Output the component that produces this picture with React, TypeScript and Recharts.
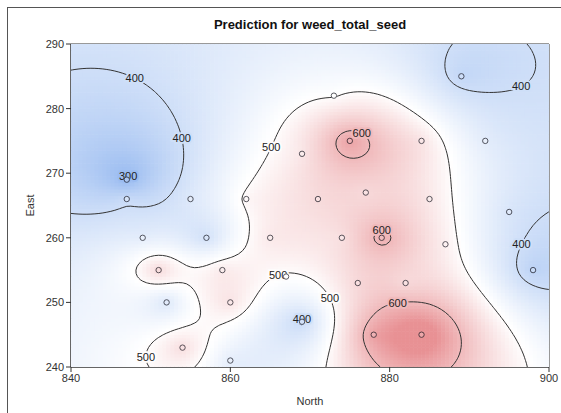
import React from 'react';
import { ComposedChart, Scatter, XAxis, YAxis, ReferenceArea } from 'recharts';

// sample locations and observed weed_total_seed
const north = [847, 847, 855, 862, 869, 873, 889, 875, 884, 892, 877, 871, 885, 849, 857, 865, 851, 859, 852, 860, 854, 860, 869, 867, 874, 879, 887, 895, 898, 876, 882, 878, 884];
const east = [269, 266, 266, 266, 273, 282, 285, 275, 275, 275, 267, 266, 266, 260, 260, 260, 255, 255, 250, 250, 243, 241, 247, 254, 260, 260, 259, 264, 255, 253, 253, 245, 245];
const seed = [285, 395, 430, 510, 530, 495, 375, 640, 540, 440, 550, 550, 530, 440, 400, 530, 560, 530, 420, 540, 550, 440, 385, 495, 540, 620, 520, 420, 362, 555, 550, 640, 710];

const xTicks = [840, 860, 880, 900];
const yTicks = [240, 250, 260, 270, 280, 290];
const contourLevels = [300, 400, 500, 600];

// where the contour labels sit (level, approx north, approx east)
const labelLevel = [400, 400, 300, 500, 600, 400, 600, 400, 500, 500, 400, 600, 500];
const labelNorth = [848.4, 853.3, 847, 864.3, 876.4, 895.5, 879.2, 896.3, 866.2, 876.2, 869, 881.3, 844];
const labelEast = [286.4, 275.4, 269.3, 274.5, 275.8, 285.7, 262.1, 259.4, 254.2, 253.2, 247.2, 248.4, 241.4];

const CHART_W = 561;
const CHART_H = 413;
const MARGIN = { top: 44, right: 12, bottom: 0, left: 0 };
const Y_AXIS_W = 71;
const X_AXIS_H = 46;
const PLOT_W = CHART_W - MARGIN.right - MARGIN.left - Y_AXIS_W;
const PLOT_H = CHART_H - MARGIN.top - MARGIN.bottom - X_AXIS_H;

// simple kriging, exponential covariance
const RANGE = 16;
const NUGGET = 0.02;
const MEAN = 440;

function solve(A: number[][], b: number[]) {
  const n = b.length;
  const M = A.map((row, i) => [...row, b[i]]);
  for (let c = 0; c < n; c++) {
    let p = c;
    for (let r = c + 1; r < n; r++) if (Math.abs(M[r][c]) > Math.abs(M[p][c])) p = r;
    const tmp = M[c]; M[c] = M[p]; M[p] = tmp;
    for (let r = c + 1; r < n; r++) {
      const f = M[r][c] / M[c][c];
      for (let k = c; k <= n; k++) M[r][k] -= f * M[c][k];
    }
  }
  const x = new Array(n).fill(0);
  for (let r = n - 1; r >= 0; r--) {
    let s = M[r][n];
    for (let k = r + 1; k < n; k++) s -= M[r][k] * x[k];
    x[r] = s / M[r][r];
  }
  return x;
}

const cov = (d: number) => Math.exp(-d / RANGE);
const K = north.map((_, i) =>
  north.map((_, j) => cov(Math.hypot(north[i] - north[j], east[i] - east[j])) + (i === j ? NUGGET : 0))
);
const weights = solve(K, seed.map((v) => v - MEAN));
const predict = (x: number, y: number) => {
  let s = MEAN;
  for (let i = 0; i < north.length; i++) s += weights[i] * cov(Math.hypot(x - north[i], y - east[i]));
  return s;
};

const MID = 495;
const mixArr = (a: number[], b: number[], t: number) => a.map((c, i) => Math.round(c + (b[i] - c) * t));
const colourArr = (v: number) => {
  if (v < MID) return mixArr([255, 255, 255], [150, 185, 240], Math.min(1, (MID - v) / 205));
  return mixArr([255, 255, 255], [232, 145, 148], Math.min(1, (v - MID) / 165));
};
const rgb = (c: number[]) => `rgb(${c.join(',')})`;
const colour = (v: number) => rgb(colourArr(v));

// heat cells
const NX = 120;
const NY = 100;
const DX = 60 / NX;
const DY = 50 / NY;
const CW = PLOT_W / NX + 0.6;
const CH = PLOT_H / NY + 0.6;
const heat: { north: number; east: number; fill: string }[] = [];
for (let i = 0; i < NX; i++) {
  for (let j = 0; j < NY; j++) {
    const x = 840 + (i + 0.5) * DX;
    const y = 240 + (j + 0.5) * DY;
    heat.push({ north: x, east: y, fill: colour(predict(x, y)) });
  }
}

// contour lines by marching squares
const grid: number[][] = [];
for (let j = 0; j <= NY; j++) {
  const row: number[] = [];
  for (let i = 0; i <= NX; i++) row.push(predict(840 + i * DX, 240 + j * DY));
  grid.push(row);
}

type Pt = { north: number; east: number };

function contourLines(level: number) {
  const pts = new Map<string, Pt>();
  const adj = new Map<string, string[]>();
  const edge = (key: string, x0: number, y0: number, v0: number, x1: number, y1: number, v1: number) => {
    if ((v0 < level) === (v1 < level)) return null;
    if (!pts.has(key)) {
      const t = (level - v0) / (v1 - v0);
      pts.set(key, { north: x0 + t * (x1 - x0), east: y0 + t * (y1 - y0) });
    }
    return key;
  };
  const link = (a: string, b: string) => {
    if (!adj.has(a)) adj.set(a, []);
    if (!adj.has(b)) adj.set(b, []);
    adj.get(a)!.push(b);
    adj.get(b)!.push(a);
  };
  for (let j = 0; j < NY; j++) {
    for (let i = 0; i < NX; i++) {
      const v0 = grid[j][i], v1 = grid[j][i + 1], v2 = grid[j + 1][i + 1], v3 = grid[j + 1][i];
      const x0 = 840 + i * DX, x1 = x0 + DX, y0 = 240 + j * DY, y1 = y0 + DY;
      const hit = [
        edge(`h${i},${j}`, x0, y0, v0, x1, y0, v1),
        edge(`v${i + 1},${j}`, x1, y0, v1, x1, y1, v2),
        edge(`h${i},${j + 1}`, x0, y1, v3, x1, y1, v2),
        edge(`v${i},${j}`, x0, y0, v0, x0, y1, v3),
      ];
      const found = hit.filter((h) => h !== null) as string[];
      if (found.length === 2) link(found[0], found[1]);
      else if (found.length === 4) {
        const centre = (v0 + v1 + v2 + v3) / 4;
        if ((centre < level) === (v0 < level)) {
          link(hit[0]!, hit[1]!);
          link(hit[2]!, hit[3]!);
        } else {
          link(hit[0]!, hit[3]!);
          link(hit[1]!, hit[2]!);
        }
      }
    }
  }
  const used = new Set<string>();
  const lines: Pt[][] = [];
  const walk = (start: string) => {
    const line = [pts.get(start)!];
    used.add(start);
    let prev = '';
    let cur = start;
    for (;;) {
      const nb = adj.get(cur) || [];
      const next = nb.find((k) => k !== prev && !used.has(k));
      if (!next) {
        if (nb.includes(start) && line.length > 2) line.push(pts.get(start)!);
        break;
      }
      used.add(next);
      line.push(pts.get(next)!);
      prev = cur;
      cur = next;
    }
    lines.push(line);
  };
  for (const [k, nb] of adj) if (nb.length === 1 && !used.has(k)) walk(k);
  for (const k of adj.keys()) if (!used.has(k)) walk(k);
  return lines;
}

const contours = contourLevels.map((level) => ({ level, lines: contourLines(level) }));

const contourLabels = labelLevel.map((level, i) => {
  const set = contours.find((c) => c.level === level);
  let best: Pt = { north: labelNorth[i], east: labelEast[i] };
  let bestD = Infinity;
  set?.lines.forEach((line) =>
    line.forEach((p) => {
      const d = Math.hypot((p.north - labelNorth[i]) * 7.97, (p.east - labelEast[i]) * 6.46);
      if (d < bestD) {
        bestD = d;
        best = p;
      }
    })
  );
  return { north: best.north, east: best.east, text: String(level), bg: colour(level) };
});

const samples = north.map((n, i) => ({ north: n, east: east[i], v: seed[i] }));

const HeatCell = (p: any) => (
  <rect x={p.cx - CW / 2} y={p.cy - CH / 2} width={CW} height={CH} fill={p.payload.fill} />
);

const ContourLabel = (p: any) => (
  <text
    x={p.cx}
    y={p.cy}
    dy="0.35em"
    textAnchor="middle"
    fontSize={11}
    fill="#222"
    stroke={p.payload.bg}
    strokeWidth={4}
    paintOrder="stroke"
  >
    {p.payload.text}
  </text>
);

const SampleDot = (p: any) => {
  const c = colourArr(p.payload.v);
  return (
    <circle
      cx={p.cx}
      cy={p.cy}
      r={2.7}
      fill={rgb(mixArr(c, [255, 255, 255], 0.2))}
      stroke={rgb(mixArr(c, [20, 20, 30], 0.7))}
      strokeWidth={1}
    />
  );
};

const NoDot = () => <g />;

const tickStyle = { fontSize: 11, fill: '#333' };

export default function App() {
  return (
    <div style={{ position: 'absolute', left: 0, top: 0, width: CHART_W, height: CHART_H, overflow: 'hidden', background: '#fff', fontFamily: '"Liberation Sans", Arial, sans-serif' }}>
      <div style={{ position: 'absolute', left: 7, top: 7, width: 620, height: 480, borderLeft: '1px solid #555', borderTop: '1px solid #555' }} />
      <div style={{ position: 'absolute', left: 71, top: 17, width: 478, textAlign: 'center', fontSize: 13, fontWeight: 'bold', color: '#111' }}>
        Prediction for weed_total_seed
      </div>
      <div style={{ position: 'absolute', left: 0, top: 0 }}>
        <ComposedChart width={CHART_W} height={CHART_H} margin={MARGIN}>
          <XAxis
            type="number"
            dataKey="north"
            domain={[840, 900]}
            ticks={xTicks}
            interval={0}
            allowDataOverflow
            height={X_AXIS_H}
            tick={tickStyle}
            tickSize={5}
            stroke="#333"
            label={{ value: 'North', position: 'insideBottom', offset: 8, fontSize: 11, fill: '#333' }}
          />
          <YAxis
            type="number"
            dataKey="east"
            domain={[240, 290]}
            ticks={yTicks}
            interval={0}
            allowDataOverflow
            width={Y_AXIS_W}
            tick={tickStyle}
            tickSize={5}
            stroke="#333"
            label={{ value: 'East', angle: -90, position: 'insideLeft', offset: 30, fontSize: 11, fill: '#333', style: { textAnchor: 'middle' } }}
          />
          <Scatter data={heat} shape={HeatCell} isAnimationActive={false} />
          {contours.map((c) =>
            c.lines.map((line, k) => (
              <Scatter
                key={`${c.level}-${k}`}
                data={line}
                shape={NoDot}
                line={{ stroke: '#333', strokeWidth: 1 }}
                lineType="joint"
                isAnimationActive={false}
              />
            ))
          )}
          <Scatter data={contourLabels} shape={ContourLabel} isAnimationActive={false} />
          <Scatter data={samples} shape={SampleDot} isAnimationActive={false} />
          <ReferenceArea x1={840} x2={900} y1={240} y2={290} fill="none" stroke="#333" strokeWidth={1} />
        </ComposedChart>
      </div>
    </div>
  );
}
